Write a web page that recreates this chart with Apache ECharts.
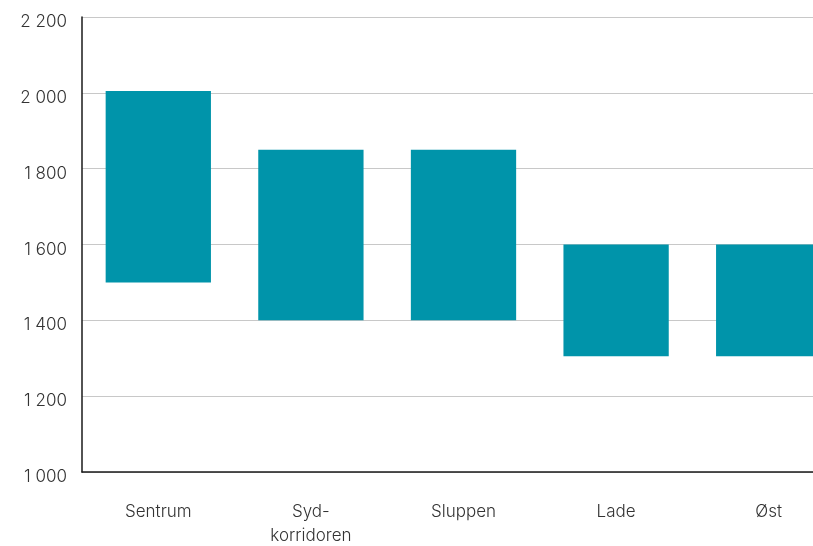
<!DOCTYPE html>
<html>
<head>
<meta charset="utf-8">
<script src="https://cdn.jsdelivr.net/npm/echarts@6/dist/echarts.min.js"></script>
<style>
html,body{margin:0;padding:0;background:#fff;overflow:hidden;}
#chart{width:813px;height:546px;}
</style>
</head>
<body>
<div id="chart"></div>
<script>
const categories = ['Sentrum', 'Syd-\nkorridoren', 'Sluppen', 'Lade', 'Øst'];
const lowValues = [1500, 1400, 1400, 1305, 1305];
const highValues = [2005, 1850, 1850, 1600, 1600];
const yTicks = [1000, 1200, 1400, 1600, 1800, 2000, 2200];

const spanValues = highValues.map((h, i) => h - lowValues[i]);
const fmt = v => '{a|' + String(v).replace(/\B(?=(\d{3})+(?!\d))/g, ' ') + '}';
const FONT = 'Inter, Roboto, sans-serif';

const chart = echarts.init(document.getElementById('chart'), null, {renderer: 'canvas'});
chart.setOption({
  animation: false,
  backgroundColor: '#ffffff',
  textStyle: {fontFamily: FONT},
  grid: {left: 82, width: 763, top: 17, bottom: 74, containLabel: false, outerBoundsMode: 'none'},
  xAxis: {
    type: 'category',
    data: categories,
    axisLine: {show: true, lineStyle: {color: '#1a1a1a', width: 1.5}},
    axisTick: {show: false},
    axisLabel: {color: '#333', fontSize: 17, fontWeight: 300, margin: 28, lineHeight: 24, fontFamily: FONT},
    splitLine: {show: false}
  },
  yAxis: {
    type: 'value',
    min: yTicks[0],
    max: yTicks[yTicks.length - 1],
    interval: 200,
    axisLine: {show: true, lineStyle: {color: '#1a1a1a', width: 1.5}},
    axisTick: {show: false},
    axisLabel: {
      color: '#333', fontSize: 17, margin: 15, formatter: fmt, fontFamily: FONT,
      rich: {a: {color: '#333', fontSize: 17, fontWeight: 300, fontFamily: FONT, padding: [10, 0, 0, 0]}}
    },
    splitLine: {show: true, lineStyle: {color: '#c8c8c8', width: 1}}
  },
  series: [
    {
      type: 'bar',
      stack: 'range',
      data: lowValues,
      barWidth: '69%',
      itemStyle: {color: 'transparent'},
      silent: true
    },
    {
      type: 'bar',
      stack: 'range',
      data: spanValues,
      barWidth: '69%',
      itemStyle: {color: '#0094aa'}
    }
  ]
});
</script>
</body>
</html>
